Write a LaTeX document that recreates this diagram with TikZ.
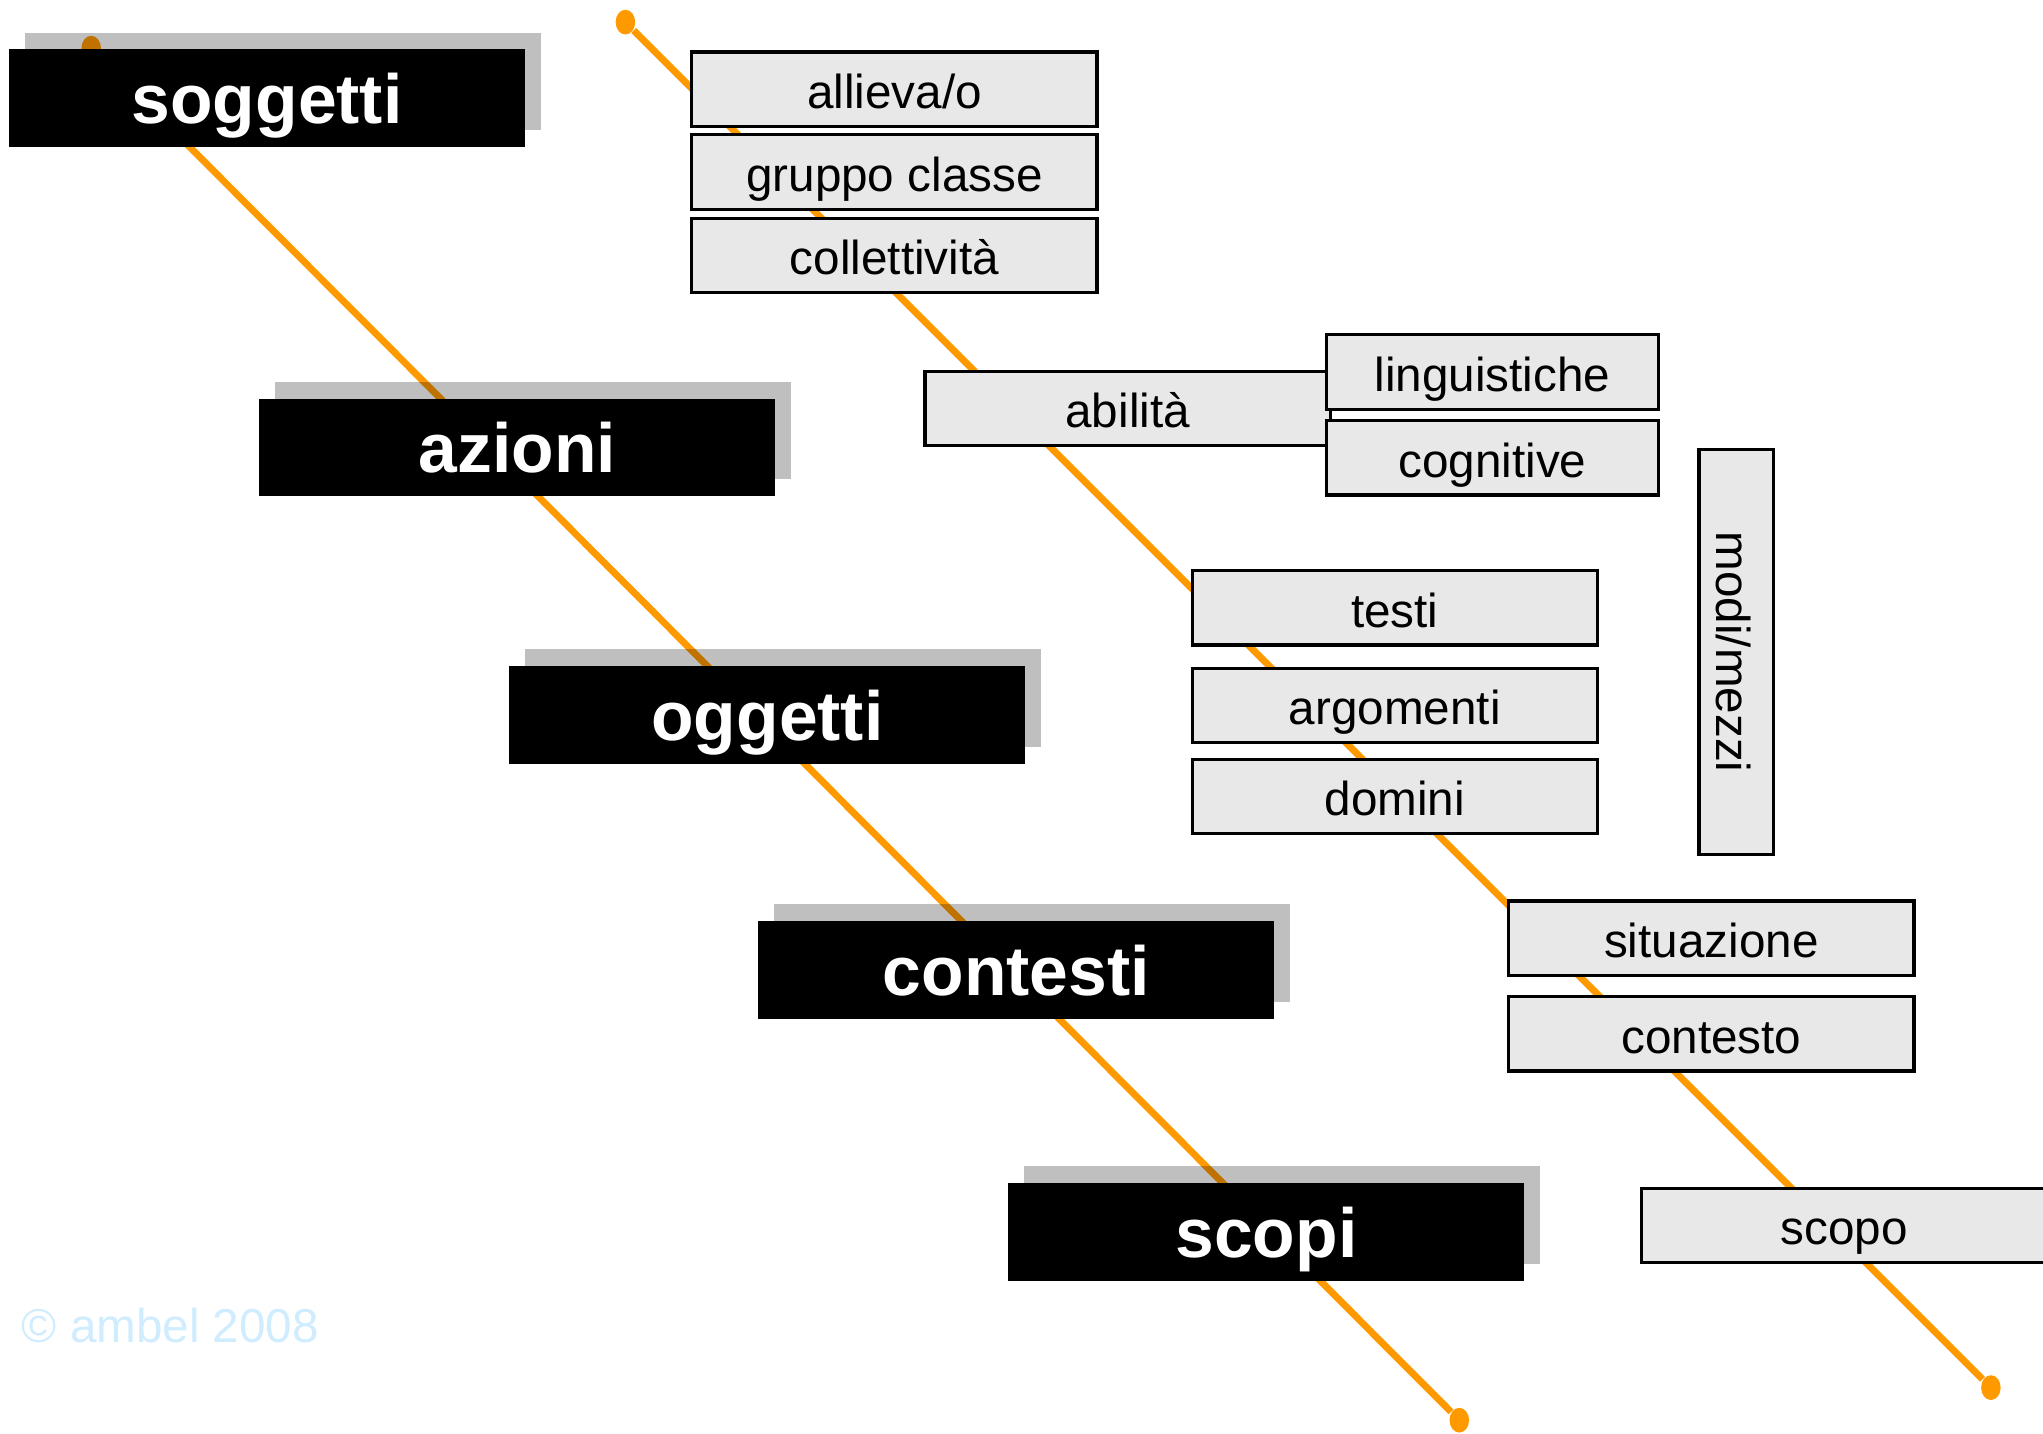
\documentclass[tikz,border=0pt]{standalone}
\usepackage{fontspec}
\setmainfont{Liberation Sans}
\usetikzlibrary{shadows,shapes.geometric}
\definecolor{arancio}{RGB}{255,153,0}
\definecolor{grigio}{RGB}{232,232,232}
\definecolor{celeste}{RGB}{208,236,255}
\tikzset{
	filo/.style={line width=1.5pt, color=arancio},
	pallino/.style={ellipse, fill=arancio, inner sep=0pt, minimum width=0.15cm, minimum height=0.19cm},
	categoria/.style={fill=black, text=white, inner sep=0pt, minimum width=3.96cm, minimum height=0.75cm,
		text height=11.1pt, text depth=0pt,
		font=\fontsize{15.2}{18}\selectfont\bfseries,
		drop shadow={shadow xshift=0.12cm, shadow yshift=0.13cm, fill=black, opacity=0.25}},
	voce/.style={draw=black, fill=grigio, line width=0.7pt, inner sep=0pt, minimum width=3.11cm, minimum height=0.57cm,
		text height=8.4pt, text depth=0pt,
		font=\fontsize{10.4}{12}\selectfont},
}

\begin{document}
\begin{tikzpicture}[x=0.1mm, y=-0.1mm]
			%%%%% START %%%%%
			\useasboundingbox (0, 0) rectangle (1568, 1100);
			
			% le due linee
			\node[pallino] (s1) at (70, 37) {};
			\node[pallino] (e1) at (1120, 1090) {};
			\node[pallino] (s2) at (480, 17) {};
			\node[pallino] (e2) at (1528, 1065) {};
			\draw[filo] (s1) -- (e1);
			\draw[filo] (s2) -- (e2);
			
			% categorie
			\node[categoria] (soggetti) at (205, 75.5) {soggetti};
			\node[categoria] (azioni) at (397, 343.5) {azioni};
			\node[categoria] (oggetti) at (589, 548.5) {oggetti};
			\node[categoria] (contesti) at (780, 744.5) {contesti};
			\node[categoria] (scopi) at (972, 945.5) {scopi};
			
			% voci
			\node[voce] (allieva) at (686.5, 68.5) {allieva/o};
			\node[voce] (gruppo) at (686.5, 132) {gruppo classe};
			\node[voce] (collettivita) at (686.5, 196) {collettività};
			
			\node[voce] (abilita) at (865.5, 313.5) {abilità};
			\node[voce, minimum width=2.55cm] (linguistiche) at (1145.5, 285.5) {linguistiche};
			\node[voce, minimum width=2.55cm] (cognitive) at (1145.5, 351.5) {cognitive};
			
			\node[voce] (testi) at (1070.5, 466.5) {testi};
			\node[voce] (argomenti) at (1070.5, 541.5) {argomenti};
			\node[voce] (domini) at (1070.5, 611.5) {domini};
			
			\node[voce, rotate=-90] (modi) at (1332.5, 500.5) {modi/mezzi};
			
			\node[voce] (situazione) at (1313.5, 720) {situazione};
			\node[voce] (contesto) at (1313.5, 793.5) {contesto};
			\node[voce] (scopo) at (1415.5, 940.5) {scopo};
			
			\node[anchor=west, text=celeste, inner sep=0pt, font=\fontsize{10.4}{12}\selectfont] (firma) at (16, 1017) {© ambel 2008};
			%%%%% END %%%%%
\end{tikzpicture}
\end{document}
